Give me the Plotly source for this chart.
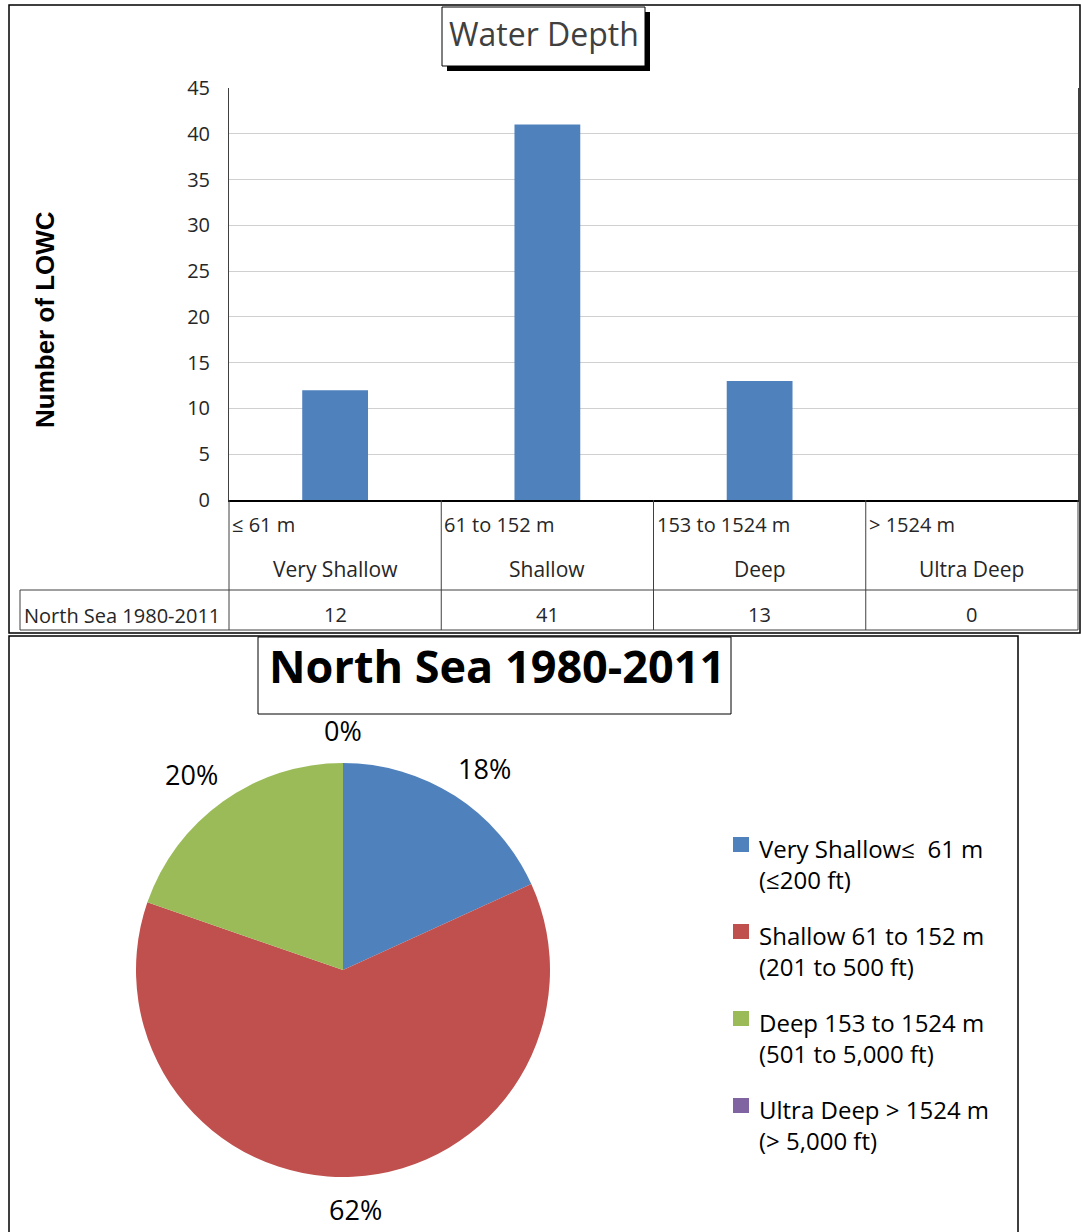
import math
import plotly.graph_objects as go

# ---------------- data ----------------
categories = ["Very Shallow", "Shallow", "Deep", "Ultra Deep"]
depth_ranges = ["≤ 61 m", "61 to 152 m", "153 to 1524 m", "> 1524 m"]
series_name = "North Sea 1980-2011"
lowc_counts = [12, 41, 13, 0]
legend_line1 = ["Very Shallow≤  61 m", "Shallow 61 to 152 m", "Deep 153 to 1524 m", "Ultra Deep > 1524 m"]
legend_line2 = ["(≤200 ft)", "(201 to 500 ft)", "(501 to 5,000 ft)", "(> 5,000 ft)"]
y_ticks = [0, 5, 10, 15, 20, 25, 30, 35, 40, 45]
slice_colors = ["#4F81BD", "#C0504D", "#9BBB59", "#8064A2"]
bar_color = "#4F81BD"

W, H = 1081, 1232
FONT = "Liberation Sans Narrow, Open Sans, Lato, sans-serif"
TXT = "#262626"


def px(x):
    return x / W


def py(y):
    return 1 - y / H


# layout geometry (pixels)
PL, PR, PT, PB = 229, 1078, 88, 500
ROW1_B, ROW2_B = 590, 630
TAB_L = 20

fig = go.Figure()

fig.add_trace(go.Bar(
    x=categories, y=lowc_counts, marker=dict(color=bar_color, line=dict(width=0)),
    width=0.31, showlegend=False, hoverinfo="x+y", xaxis="x", yaxis="y",
))

# pie
total = sum(lowc_counts)
CX, CY, R = 343, 970, 207
fig.add_trace(go.Pie(
    labels=categories, values=lowc_counts, sort=False, direction="clockwise",
    rotation=0, marker=dict(colors=slice_colors, line=dict(width=0)),
    textinfo="none", showlegend=False, automargin=False,
    domain=dict(x=[px(CX - R), px(CX + R)], y=[py(CY + R), py(CY - R)]),
))

shapes = []
annotations = []

# outer borders
shapes.append(dict(type="rect", xref="paper", yref="paper", x0=px(9), x1=px(1080), y0=py(633), y1=py(5),
                   line=dict(color="black", width=1.5), fillcolor="rgba(0,0,0,0)", layer="below"))
shapes.append(dict(type="rect", xref="paper", yref="paper", x0=px(9), x1=px(1018), y0=py(1240), y1=py(636),
                   line=dict(color="black", width=1.5), fillcolor="rgba(0,0,0,0)", layer="below"))

# table lines
ncat = len(categories)
cw = (PR - PL) / ncat
for i in range(ncat + 1):
    x = PL + i * cw
    shapes.append(dict(type="line", xref="paper", yref="paper", x0=px(x), x1=px(x), y0=py(PB), y1=py(ROW2_B),
                       line=dict(color="#404040", width=1)))
shapes.append(dict(type="line", xref="paper", yref="paper", x0=px(TAB_L), x1=px(TAB_L), y0=py(ROW1_B), y1=py(ROW2_B),
                   line=dict(color="#404040", width=1)))
for yy in (ROW1_B, ROW2_B):
    shapes.append(dict(type="line", xref="paper", yref="paper", x0=px(TAB_L), x1=px(PR), y0=py(yy), y1=py(yy),
                       line=dict(color="#404040", width=1)))

for i, (rng, cat, val) in enumerate(zip(depth_ranges, categories, lowc_counts)):
    x0 = PL + i * cw
    annotations.append(dict(text=rng, x=px(x0 + 1), y=py(524), xref="paper", yref="paper",
                            xanchor="left", yanchor="middle", showarrow=False,
                            font=dict(family=FONT, size=20, color=TXT)))
    annotations.append(dict(text=cat, x=px(x0 + cw / 2), y=py(569), xref="paper", yref="paper",
                            xanchor="center", yanchor="middle", showarrow=False,
                            font=dict(family=FONT, size=21, color=TXT)))
    annotations.append(dict(text=str(val), x=px(x0 + cw / 2), y=py(614), xref="paper", yref="paper",
                            xanchor="center", yanchor="middle", showarrow=False,
                            font=dict(family=FONT, size=20, color=TXT)))
annotations.append(dict(text=series_name, x=px(TAB_L + 2), y=py(615), xref="paper", yref="paper",
                        xanchor="left", yanchor="middle", showarrow=False,
                        font=dict(family=FONT, size=20, color=TXT)))

# y axis title
annotations.append(dict(text="<b>Number of LOWC</b>", x=px(45), y=py(320), xref="paper", yref="paper",
                        textangle=-90, showarrow=False, xanchor="center", yanchor="middle",
                        font=dict(family="Liberation Sans, Arial, sans-serif", size=26, color="black")))

# Water Depth title box with shadow
shapes.append(dict(type="rect", xref="paper", yref="paper", x0=px(447), x1=px(650), y0=py(71), y1=py(12),
                   line=dict(width=0), fillcolor="black"))
shapes.append(dict(type="rect", xref="paper", yref="paper", x0=px(442), x1=px(645), y0=py(66), y1=py(7),
                   line=dict(color="black", width=1), fillcolor="white"))
annotations.append(dict(text="Water Depth", x=px(544), y=py(33), xref="paper", yref="paper",
                        showarrow=False, xanchor="center", yanchor="middle",
                        font=dict(family=FONT, size=32, color="#404040")))

# pie title box
shapes.append(dict(type="rect", xref="paper", yref="paper", x0=px(258), x1=px(731), y0=py(714), y1=py(637),
                   line=dict(color="black", width=1), fillcolor="white"))
annotations.append(dict(text="<b>North Sea 1980-2011</b>", x=px(497), y=py(665), xref="paper", yref="paper",
                        showarrow=False, xanchor="center", yanchor="middle",
                        font=dict(family=FONT, size=45, color="black")))

# pie percentage labels (outside, at slice mid-angles)
cum = 0.0
LRX, LRY = 262, 240
for val in lowc_counts:
    frac = val / total
    mid = (cum + frac / 2) * 2 * math.pi
    cum += frac
    lx = CX + LRX * math.sin(mid)
    ly = CY - LRY * math.cos(mid)
    annotations.append(dict(text=f"{round(frac * 100)}%", x=px(lx), y=py(ly), xref="paper", yref="paper",
                            showarrow=False, xanchor="center", yanchor="middle",
                            font=dict(family=FONT, size=27, color="black")))

# manual legend
for i, (l1, l2, c) in enumerate(zip(legend_line1, legend_line2, slice_colors)):
    y0 = 845 + i * 87
    shapes.append(dict(type="rect", xref="paper", yref="paper", x0=px(733), x1=px(749), y0=py(y0 + 7), y1=py(y0 - 8),
                       line=dict(width=0), fillcolor=c))
    annotations.append(dict(text=l1, x=px(757), y=py(y0 + 3), xref="paper", yref="paper",
                            showarrow=False, xanchor="left", yanchor="middle",
                            font=dict(family=FONT, size=24, color="black")))
    annotations.append(dict(text=l2, x=px(757), y=py(y0 + 34), xref="paper", yref="paper",
                            showarrow=False, xanchor="left", yanchor="middle",
                            font=dict(family=FONT, size=24, color="black")))

fig.update_layout(
    width=W, height=H, margin=dict(l=0, r=0, t=0, b=0, pad=0, autoexpand=False),
    paper_bgcolor="white", plot_bgcolor="white",
    xaxis=dict(domain=[px(PL), px(PR)], anchor="y", range=[-0.5, 3.5], showticklabels=False,
               showline=True, linecolor="black", linewidth=2, mirror=False, ticks="", showgrid=False,
               fixedrange=True, automargin=False),
    yaxis=dict(domain=[py(PB), py(PT)], anchor="x", range=[0, 45], tickvals=y_ticks,
               showgrid=True, gridcolor="#D0D0D0", gridwidth=1, showline=True, linecolor="#404040",
               linewidth=1, mirror=True, ticks="", ticklabelstandoff=14, automargin=False,
               tickfont=dict(family=FONT, size=20, color=TXT), zeroline=False, fixedrange=True),
    shapes=shapes, annotations=annotations,
)

fig.write_html(
    "out.html",
    config={"displayModeBar": False},
    post_script="document.body.style.margin='0';document.body.style.overflow='hidden';",
)
